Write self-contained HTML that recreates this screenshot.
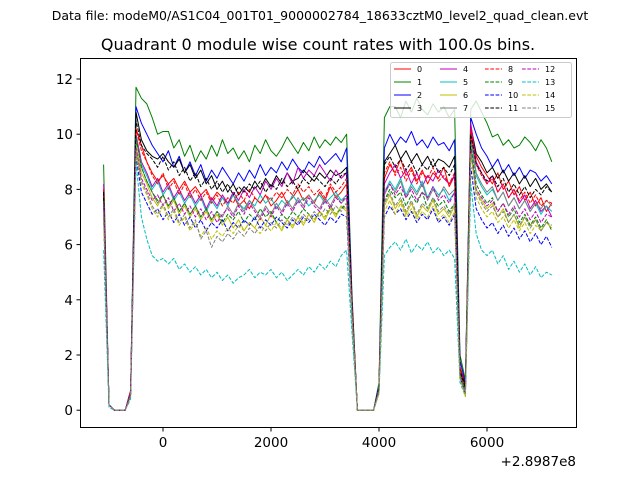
<!DOCTYPE html>
<html><head><meta charset="utf-8"><style>
html,body{margin:0;padding:0;background:#fff;}
svg{display:block;font-family:"DejaVu Sans","Liberation Sans",sans-serif;}
</style></head><body>
<svg id="chart" width="640" height="480" viewBox="0 0 640 480">
<rect x="0" y="0" width="640" height="480" fill="#fff"/>
<text x="320" y="20" font-size="12.5" text-anchor="middle">Data file: modeM0/AS1C04_001T01_9000002784_18633cztM0_level2_quad_clean.evt</text>
<text x="318" y="50" font-size="16" text-anchor="middle">Quadrant 0 module wise count rates with 100.0s bins.</text>
<g id="series"></g>
<rect x="80.5" y="58.5" width="496" height="369" fill="none" stroke="#000" stroke-width="1"/>
<g id="axes"></g>
<text x="576" y="466" font-size="13.5" text-anchor="end">+2.8987e8</text>
<g id="legend"></g>
</svg>
<script>
const t0 = -1100, binSize = 100;
const yTicks = [0,2,4,6,8,10,12];
const xTicks = [0,2000,4000,6000];
const seriesNames = ["0","1","2","3","4","5","6","7","8","9","10","11","12","13","14","15"];
const s0=[7.8,0.2,0,0,0,0.6,10.2,9.6,9.0,8.6,8.3,8.5,8.2,8.4,8.0,8.3,7.9,8.1,7.8,8.0,7.6,7.9,7.7,7.5,7.8,7.4,7.6,7.3,7.7,7.5,7.8,7.4,7.6,7.9,7.5,7.7,8.0,7.6,7.8,7.5,7.9,7.6,8.1,7.7,7.9,8.2,3.8,0,0,0,0,0.9,8.4,8.9,8.6,9.1,8.5,8.8,8.3,8.7,8.2,8.6,8.4,8.8,8.1,8.5,1.6,0.9,10.0,9.2,8.8,8.5,8.2,8.6,8.0,8.3,7.8,8.1,7.6,7.9,7.4,7.7,7.2,7.5];
const s1=[8.9,0.2,0,0,0,0.7,11.7,11.3,11.1,10.6,10.0,10.1,10.1,9.5,9.8,9.2,9.6,9.0,9.4,9.1,9.6,9.2,9.8,9.3,9.5,9.1,9.4,9.0,9.6,9.3,9.8,9.4,9.2,9.5,9.9,9.6,9.3,9.7,9.4,9.9,9.5,9.8,9.6,9.9,9.7,10.0,4.2,0,0,0,0,1.0,10.6,11.0,11.0,10.6,11.2,10.8,11.3,10.9,10.7,11.1,10.8,11.0,10.6,10.9,2.0,1.1,10.9,11.2,10.8,10.4,9.9,10.0,9.6,9.8,9.5,9.6,9.9,9.7,9.4,9.8,9.5,9.0];
const s2=[8.0,0.2,0,0,0,0.7,11.0,10.4,10.0,9.6,9.3,9.0,9.4,8.8,9.2,8.6,9.0,8.5,8.9,8.3,8.7,8.4,8.8,8.5,8.2,8.6,8.3,8.7,8.4,8.9,8.5,8.8,8.6,9.0,8.7,9.1,8.8,8.6,9.0,8.8,9.2,8.9,9.1,9.3,9.0,9.5,4.0,0,0,0,0,0.9,9.5,10.0,9.6,9.9,9.7,10.1,9.6,9.8,9.5,9.9,9.6,9.7,9.4,9.8,1.8,1.0,10.6,10.0,9.5,9.2,8.8,9.1,8.6,8.9,8.5,8.8,8.4,8.7,8.6,8.3,8.5,8.2];
const s3=[7.8,0.2,0,0,0,0.6,10.8,9.8,9.4,9.2,9.1,9.3,9.0,8.8,9.1,8.6,8.9,8.4,8.7,8.2,8.5,8.0,8.3,7.9,8.2,7.8,8.1,7.9,8.3,8.0,8.4,8.1,8.5,8.2,8.6,8.3,8.4,8.7,8.5,8.3,8.6,8.4,8.7,8.5,8.6,8.8,3.9,0,0,0,0,0.8,9.0,9.3,9.6,9.1,9.4,9.0,9.3,8.9,9.2,8.8,9.1,9.0,8.8,9.2,1.5,0.9,10.3,9.3,9.0,8.6,8.8,8.4,8.7,8.3,8.6,8.2,8.5,8.1,8.4,8.0,8.2,7.9];
const s4=[8.2,0.2,0,0,0,0.6,10.0,9.0,8.6,8.1,8.4,7.9,8.2,7.7,8.0,7.6,7.9,7.5,7.8,7.3,7.7,7.4,7.8,7.5,7.9,7.6,8.0,7.7,8.1,7.8,8.3,8.0,8.4,8.1,8.6,8.2,8.8,8.4,8.7,8.5,8.9,8.6,8.3,8.7,8.4,8.6,3.7,0,0,0,0,0.8,8.2,8.6,8.9,8.4,8.7,8.2,8.6,8.1,8.5,8.3,8.7,8.4,8.2,8.5,1.4,0.8,10.4,9.0,8.6,8.2,8.5,7.9,8.2,7.7,8.0,7.5,7.8,7.3,7.6,7.2,7.4,7.0];
const s5=[7.5,0.2,0,0,0,0.6,9.8,8.9,8.5,8.0,8.3,7.8,8.1,7.6,7.9,7.5,7.8,7.4,7.7,7.2,7.6,7.3,7.7,7.4,7.8,7.5,7.3,7.6,7.4,7.8,7.5,7.7,7.3,7.6,7.4,7.8,7.5,7.7,7.4,7.6,7.8,7.5,7.7,7.9,7.6,7.8,3.6,0,0,0,0,0.7,7.9,8.3,8.0,8.4,7.8,8.2,7.9,8.3,7.7,8.1,7.8,8.0,7.6,7.9,1.3,0.7,9.8,8.5,8.1,7.8,8.0,7.6,7.9,7.4,7.7,7.3,7.6,7.2,7.5,7.1,7.4,7.2];
const s6=[7.2,0.2,0,0,0,0.5,9.6,8.6,8.2,7.7,7.4,7.8,7.3,7.6,7.1,7.4,7.0,7.3,6.9,7.2,6.8,7.1,6.7,7.0,6.6,6.9,6.5,6.8,6.6,7.0,6.7,7.1,6.8,6.5,6.9,6.6,7.0,6.7,7.1,6.8,7.2,6.9,7.3,7.0,7.4,7.2,3.5,0,0,0,0,0.7,7.4,7.8,7.3,7.6,7.1,7.5,7.0,7.4,7.2,7.6,7.1,7.3,7.0,7.4,1.2,0.5,9.5,8.0,7.6,7.3,7.5,7.0,7.3,6.8,7.1,6.6,7.0,6.7,6.9,6.5,6.8,6.6];
const s7=[7.4,0.2,0,0,0,0.6,9.9,8.8,8.3,7.9,7.5,7.8,7.4,7.7,7.2,7.5,7.1,7.4,7.0,7.3,6.9,7.2,7.0,7.4,7.1,7.5,7.2,7.6,7.3,7.0,7.4,7.1,7.5,7.2,7.6,7.3,7.7,7.4,7.8,7.5,7.3,7.7,7.4,7.8,7.5,7.7,3.7,0,0,0,0,0.8,7.8,8.2,7.9,8.3,7.7,8.1,7.8,8.2,7.6,8.0,7.7,8.1,7.8,8.0,1.3,0.7,9.9,8.6,8.2,7.9,8.1,7.6,7.9,7.4,7.7,7.3,7.6,7.2,7.5,7.3,7.6,7.4];
const s8=[8.0,0.2,0,0,0,0.7,10.2,9.4,9.0,8.5,8.2,8.6,8.0,8.3,7.8,8.2,7.7,8.0,7.6,7.9,7.5,7.8,7.4,7.7,7.5,7.9,7.6,8.0,7.7,7.5,7.8,7.6,7.9,7.7,8.0,7.8,8.2,7.9,8.1,7.8,8.0,7.7,8.2,7.9,8.1,8.4,3.9,0,0,0,0,0.8,8.6,9.0,8.5,8.8,8.3,8.7,8.2,8.6,8.4,8.8,8.3,8.5,8.2,8.6,1.5,0.8,10.2,8.9,8.5,8.2,8.4,7.9,8.2,7.7,8.0,7.6,7.9,7.5,7.8,7.4,7.6,7.5];
const s9=[7.6,0.2,0,0,0,0.6,9.9,8.8,8.3,7.9,7.6,7.8,7.4,7.7,7.2,7.5,7.1,7.4,7.0,7.3,6.9,7.2,6.8,7.1,6.9,7.2,6.8,7.1,6.9,7.3,7.0,7.2,6.8,7.1,6.9,7.2,7.0,7.3,7.1,6.9,7.2,7.0,7.4,7.1,7.3,7.5,3.5,0,0,0,0,0.7,7.6,8.0,7.7,7.9,7.4,7.8,7.5,7.9,7.3,7.7,7.4,7.6,7.2,7.5,1.3,0.6,9.6,8.2,7.8,7.5,7.7,7.2,7.5,7.0,7.3,6.8,7.1,6.7,7.0,6.6,6.9,6.5];
const s10=[7.0,0.2,0,0,0,0.5,9.2,7.9,7.5,7.1,7.3,6.9,7.2,6.8,7.1,6.7,7.0,6.6,6.9,6.5,6.8,6.6,6.9,6.5,6.8,6.6,6.9,6.7,7.0,6.6,6.9,6.7,7.0,6.8,6.6,6.9,6.7,7.0,6.8,7.1,6.9,6.7,7.0,6.8,7.1,7.0,3.3,0,0,0,0,0.7,7.0,7.4,7.1,7.3,6.9,7.2,6.8,7.1,6.9,7.3,6.8,7.0,6.7,7.1,1.2,0.6,8.8,7.3,6.9,6.6,6.8,6.4,6.7,6.3,6.6,6.2,6.5,6.1,6.4,6.0,6.3,5.9];
const s11=[7.9,0.2,0,0,0,0.6,10.5,9.6,9.3,9.1,8.8,9.2,8.7,9.0,8.5,8.8,8.3,8.6,8.1,8.4,8.0,8.3,7.9,8.2,7.8,8.1,7.9,8.2,8.0,8.3,7.9,8.2,8.0,8.4,8.1,8.3,8.0,8.4,8.2,8.5,8.3,8.1,8.4,8.2,8.5,8.6,3.8,0,0,0,0,0.8,8.9,9.2,8.8,9.1,8.7,9.0,8.6,8.9,8.7,9.1,8.6,8.8,8.5,8.9,1.4,0.8,10.0,8.9,8.6,8.3,8.5,8.1,8.4,7.9,8.2,7.8,8.1,7.7,8.0,7.8,8.1,7.9];
const s12=[7.5,0.2,0,0,0,0.6,9.5,8.4,8.0,7.6,7.8,7.4,7.7,7.2,7.5,7.1,7.4,7.0,7.3,6.9,7.2,6.8,7.1,7.3,7.0,7.4,7.1,7.5,7.2,6.9,7.3,7.0,7.4,7.1,7.5,7.2,7.6,7.3,7.7,7.4,7.2,7.6,7.3,7.7,7.5,7.8,3.6,0,0,0,0,0.7,7.9,8.2,7.8,8.1,7.7,8.0,7.6,7.9,7.7,8.1,7.6,7.8,7.5,7.9,1.2,0.6,9.4,8.0,7.7,7.4,7.6,7.2,7.5,7.1,7.4,7.0,7.3,6.9,7.2,6.8,7.1,7.0];
const s13=[5.8,0.1,0,0,0,0.4,9.0,7.0,6.2,5.6,5.4,5.5,5.3,5.5,5.1,5.3,5.0,5.2,4.9,5.1,4.8,5.0,4.7,4.9,4.6,4.8,4.9,5.1,4.8,5.0,4.9,5.1,4.8,5.0,4.7,4.9,5.1,4.9,5.2,5.0,5.3,5.1,5.4,5.2,5.6,5.8,2.8,0,0,0,0,0.6,5.6,5.9,6.1,5.8,6.2,5.7,6.0,5.8,6.1,5.7,5.9,5.6,5.8,5.5,1.0,0.5,8.2,6.4,5.8,5.6,5.8,5.3,5.6,5.1,5.4,5.0,5.3,4.9,5.2,4.8,5.0,4.9];
const s14=[7.0,0.2,0,0,0,0.5,9.3,8.2,7.8,7.3,7.0,7.4,6.9,7.2,6.7,7.0,6.5,6.8,6.3,6.6,6.2,6.5,6.3,6.6,6.4,6.7,6.5,6.8,6.6,6.4,6.7,6.5,6.8,6.6,6.9,6.7,7.0,6.8,7.1,6.9,7.2,7.0,7.3,7.1,7.4,7.3,3.4,0,0,0,0,0.6,7.2,7.6,7.1,7.5,7.0,7.3,6.9,7.2,7.0,7.4,6.9,7.1,6.8,7.2,1.1,0.5,9.3,7.7,7.3,7.0,7.2,6.8,7.0,6.6,6.9,6.5,6.8,6.4,6.7,6.5,6.8,6.6];
const s15=[7.2,0.2,0,0,0,0.5,9.4,8.3,7.9,7.4,7.1,7.5,7.0,7.3,6.8,7.1,6.6,6.9,6.2,6.5,5.9,6.3,6.1,6.4,6.2,6.5,6.3,6.6,6.4,6.7,6.5,6.8,6.6,6.9,6.7,7.0,6.8,7.1,6.9,7.2,7.0,7.3,7.1,7.4,7.2,7.5,3.4,0,0,0,0,0.7,7.5,7.9,7.4,7.7,7.2,7.6,7.1,7.5,7.3,7.7,7.2,7.4,7.1,7.5,1.2,0.6,9.3,7.9,7.5,7.2,7.4,7.0,7.2,6.8,7.1,6.7,7.0,6.6,6.9,6.5,6.8,6.7];
const seriesValues=[s0,s1,s2,s3,s4,s5,s6,s7,s8,s9,s10,s11,s12,s13,s14,s15];

const colors=["#ff0000","#008000","#0000ff","#000000","#bf00bf","#00bfbf","#bfbf00","#808080"];
const NS="http://www.w3.org/2000/svg";
const X0=163, XS=0.054, Y0=410.2, YS=27.6;
function xScale(t){return X0+t*XS;}
function yScale(v){return Y0-v*YS;}
function mk(tag,attrs,parent){const e=document.createElementNS(NS,tag);for(const k in attrs)e.setAttribute(k,attrs[k]);parent.appendChild(e);return e;}

const sg=document.getElementById('series');
seriesValues.forEach((vals,si)=>{
  const pts=vals.map((v,i)=>xScale(t0+i*binSize).toFixed(2)+","+yScale(v).toFixed(2)).join(" ");
  const attrs={points:pts,fill:"none",stroke:colors[si%8],"stroke-width":"1","stroke-linejoin":"round"};
  if(si>=8)attrs["stroke-dasharray"]="3.7,1.6";
  const pl=mk('polyline',attrs,sg);
  
  
});

const ag=document.getElementById('axes');
yTicks.forEach(v=>{
  const y=yScale(v);
  const l=mk('line',{x1:76.5,x2:80.5,y1:y,y2:y,stroke:"#000","stroke-width":"1"},ag);
  
  
  const t=mk('text',{x:73,y:y+5,"font-size":"13.5","text-anchor":"end"},ag);
  t.textContent=v;
  
  
});
xTicks.forEach(v=>{
  const x=xScale(v);
  const l=mk('line',{x1:x,x2:x,y1:427.5,y2:431.5,stroke:"#000","stroke-width":"1"},ag);
  
  
  const t=mk('text',{x:x,y:447,"font-size":"13.5","text-anchor":"middle"},ag);
  t.textContent=v;
  
  
});

const lg=document.getElementById('legend');
const lb=mk('rect',{x:390.5,y:62.5,width:181,height:55,rx:2,fill:"rgba(255,255,255,0.8)",stroke:"#ccc","stroke-width":"1"},lg);


const colX=[394,440,485,522], rowY=[69,82,95,108];
seriesNames.forEach((n,si)=>{
  const c=Math.floor(si/4), r=si%4;
  const g=mk('g',{},lg);
  
  
  const a={x1:colX[c],x2:colX[c]+17,y1:rowY[r],y2:rowY[r],stroke:colors[si%8],"stroke-width":"1"};
  if(si>=8)a["stroke-dasharray"]="3.7,1.6";
  mk('line',a,g);
  const t=mk('text',{x:colX[c]+23,y:rowY[r]+3,"font-size":"8"},g);
  t.textContent=n;
});
</script>
</body></html>
